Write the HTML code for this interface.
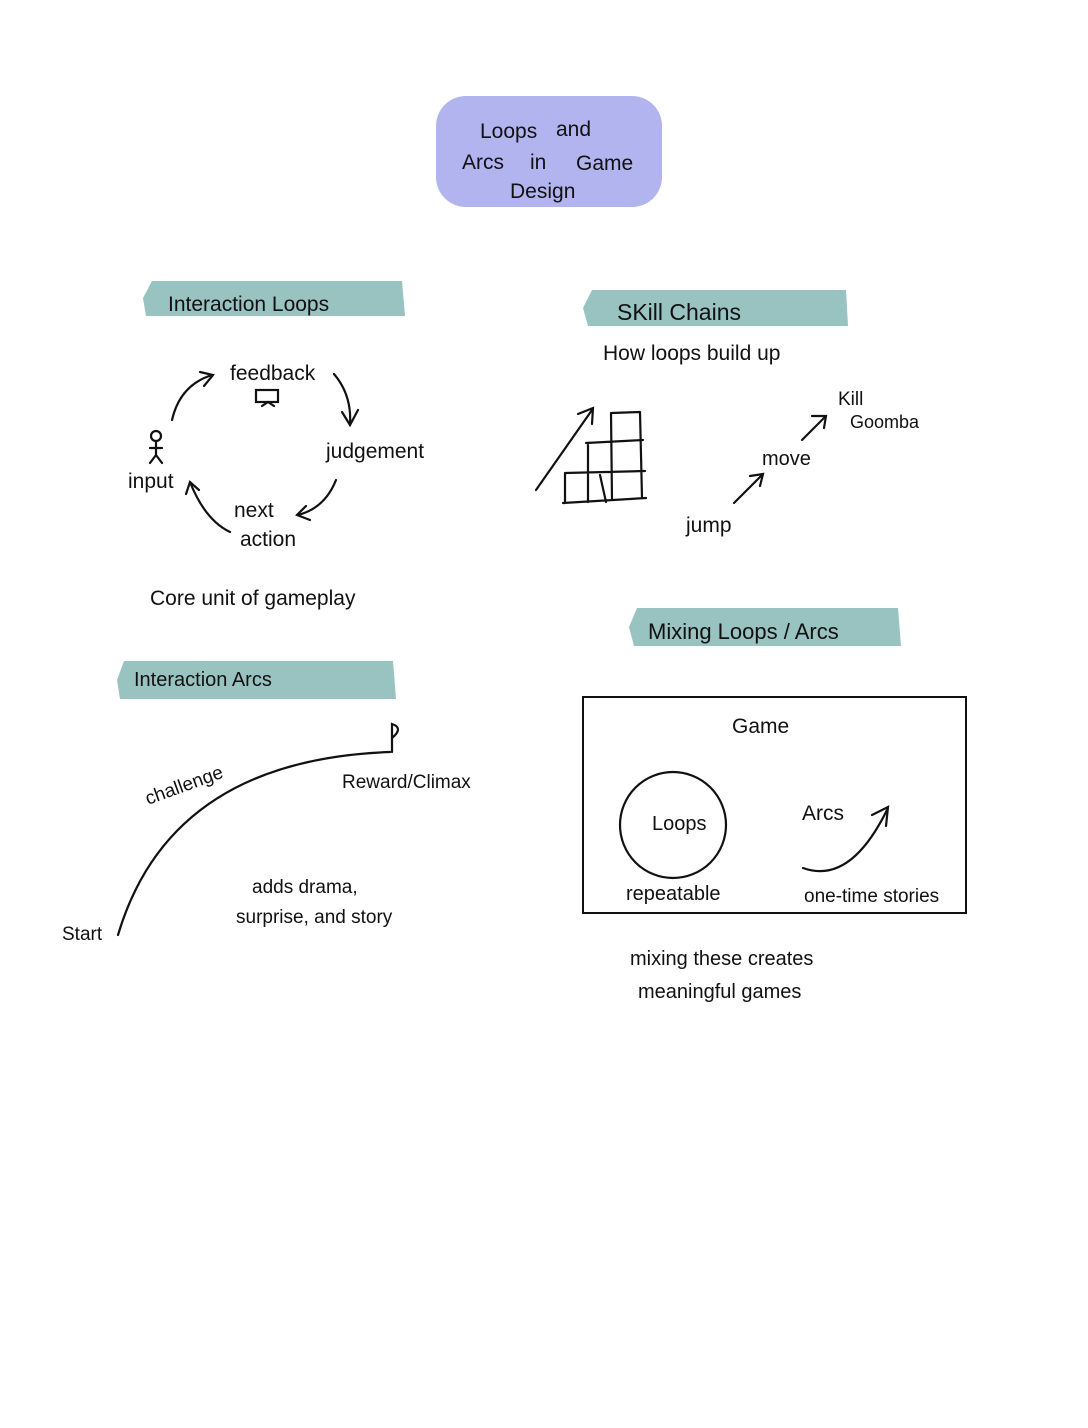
<!DOCTYPE html>
<html><head><meta charset="utf-8"><style>
html,body{margin:0;padding:0;background:#fff;}
svg{display:block;}
text{font-family:"Liberation Sans",sans-serif;fill:#111;}
</style></head><body>
<svg width="1088" height="1428" viewBox="0 0 1088 1428" xmlns="http://www.w3.org/2000/svg">
<rect width="1088" height="1428" fill="#fff"/>
<!-- title -->
<rect x="436" y="96" width="226" height="111" rx="30" fill="#b1b4ef"/>
<text x="480" y="138" font-size="21">Loops</text><text x="556" y="136" font-size="21">and</text>
<text x="462" y="169" font-size="21">Arcs</text><text x="530" y="169" font-size="21">in</text><text x="576" y="170" font-size="21">Game</text>
<text x="510" y="198" font-size="21">Design</text>
<!-- banners -->
<g fill="#98c3c1">
<path d="M152 281 L402 281 L405 316 L146 316 L143 298 Z"/>
<path d="M592 290 L846 290 L848 326 L588 326 L583 308 Z"/>
<path d="M637 608 L898 608 L901 646 L634 646 L629 627 Z"/>
<path d="M124 661 L393 661 L396 699 L120 699 L117 680 Z"/>
</g>
<text x="168" y="311" font-size="21">Interaction  Loops</text>
<text x="617" y="320" font-size="23">SKill  Chains</text>
<text x="648" y="639" font-size="22">Mixing  Loops / Arcs</text>
<text x="134" y="686" font-size="20">Interaction  Arcs</text>
<g fill="none" stroke="#111" stroke-width="2.2" stroke-linecap="round">
<!-- loop arrows -->
<path d="M172 420 Q180 385 212 375"/><path d="M200 372 L213 375 L204 386"/>
<path d="M334 374 Q352 395 350 425"/><path d="M342 412 L350 425 L358 410"/>
<path d="M336 480 Q325 508 298 515"/><path d="M306 506 L297 515 L310 520"/>
<path d="M230 532 Q205 520 190 482"/><path d="M186 494 L190 482 L199 490"/>
<!-- tv icon -->
<rect x="256" y="390" width="22" height="12"/><path d="M262 406 L268 402 L274 406"/>
<!-- person -->
<circle cx="156" cy="436" r="5"/><path d="M156 441 L156 455 M150 448 L162 448 M156 455 L150 463 M156 455 L162 463"/>
<!-- skill chains -->
<path d="M536 490 L592 410"/><path d="M578 414 L593 408 L592 424"/>
<path d="M565 473 L645 471 M563 503 L646 498 M565 473 L565 503 M588 445 L588 502 M611 413 L612 500 M640 412 L642 498 M586 443 L643 440 M612 413 L640 412 M600 475 L606 502"/>
<path d="M734 503 L762 475"/><path d="M750 476 L763 474 L760 486"/>
<path d="M802 440 L825 417"/><path d="M812 416 L826 416 L824 428"/>
<!-- arc -->
<path d="M118 935 Q170 760 390 752"/>
<path d="M392 752 L392 724 Q404 728 392 738"/>
<!-- game box -->
<rect x="583" y="697" width="383" height="216" stroke-width="2"/>
<circle cx="673" cy="825" r="53"/>
<path d="M803 868 Q850 885 887 810"/><path d="M872 815 L888 807 L886 826"/>
</g>
<g font-size="21">
<text x="230" y="380">feedback</text>
<text x="326" y="458">judgement</text>
<text x="128" y="488">input</text>
<text x="234" y="517">next</text>
<text x="240" y="546">action</text>
<text x="150" y="605">Core  unit  of  gameplay</text>
<text x="603" y="360">How  loops  build  up</text>
<text x="838" y="405" font-size="19">Kill</text>
<text x="850" y="428" font-size="18">Goomba</text>
<text x="762" y="465" font-size="20">move</text>
<text x="686" y="532">jump</text>
<text x="148" y="805" font-size="19" transform="rotate(-20 148 805)">challenge</text>
<text x="342" y="788" font-size="19">Reward/Climax</text>
<text x="252" y="893" font-size="19">adds   drama,</text>
<text x="236" y="923" font-size="19">surprise,  and  story</text>
<text x="62" y="940" font-size="19">Start</text>
<text x="732" y="733">Game</text>
<text x="652" y="830" font-size="20">Loops</text>
<text x="802" y="820">Arcs</text>
<text x="626" y="900" font-size="20">repeatable</text>
<text x="804" y="902" font-size="19">one-time  stories</text>
<text x="630" y="965" font-size="20">mixing  these  creates</text>
<text x="638" y="998" font-size="20">meaningful  games</text>
</g>
</svg>
</body></html>
